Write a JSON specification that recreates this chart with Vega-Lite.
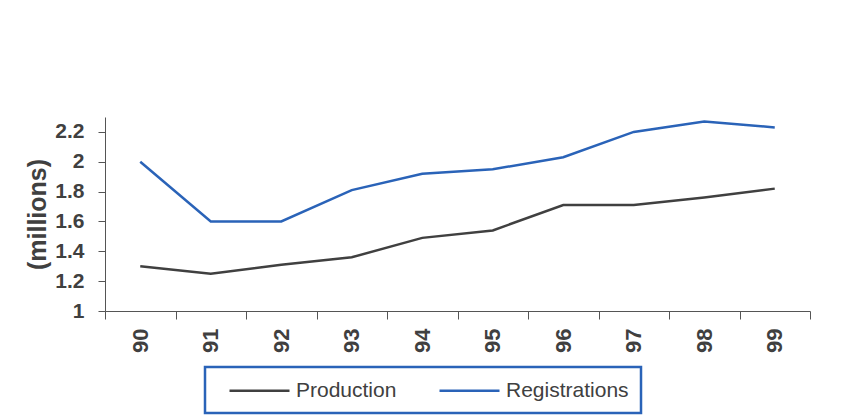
{
  "$schema": "https://vega.github.io/schema/vega-lite/v6.json",
  "width": 705,
  "height": 194,
  "autosize": {"type": "none"},
  "padding": {"left": 105, "top": 117, "right": 57, "bottom": 104},
  "background": "white",
  "data": {"values": [
    {"year": "90", "series": "Production", "value": 1.30},
    {"year": "91", "series": "Production", "value": 1.25},
    {"year": "92", "series": "Production", "value": 1.31},
    {"year": "93", "series": "Production", "value": 1.36},
    {"year": "94", "series": "Production", "value": 1.49},
    {"year": "95", "series": "Production", "value": 1.54},
    {"year": "96", "series": "Production", "value": 1.71},
    {"year": "97", "series": "Production", "value": 1.71},
    {"year": "98", "series": "Production", "value": 1.76},
    {"year": "99", "series": "Production", "value": 1.82},
    {"year": "90", "series": "Registrations", "value": 2.00},
    {"year": "91", "series": "Registrations", "value": 1.60},
    {"year": "92", "series": "Registrations", "value": 1.60},
    {"year": "93", "series": "Registrations", "value": 1.81},
    {"year": "94", "series": "Registrations", "value": 1.92},
    {"year": "95", "series": "Registrations", "value": 1.95},
    {"year": "96", "series": "Registrations", "value": 2.03},
    {"year": "97", "series": "Registrations", "value": 2.20},
    {"year": "98", "series": "Registrations", "value": 2.27},
    {"year": "99", "series": "Registrations", "value": 2.23}
  ]},
  "mark": {"type": "line", "strokeWidth": 2.5},
  "encoding": {
    "x": {
      "field": "year", "type": "ordinal",
      "scale": {"type": "band", "paddingInner": 0, "paddingOuter": 0},
      "axis": {
        "title": null, "labelAngle": 270, "tickBand": "extent",
        "labelFont": "Liberation Sans", "labelFontSize": 22, "labelFontWeight": "bold",
        "labelColor": "#404040", "domainColor": "#555", "tickColor": "#555",
        "tickSize": 8, "labelPadding": 9, "grid": false, "labelBaseline": "middle"
      }
    },
    "y": {
      "field": "value", "type": "quantitative",
      "scale": {"domain": [1, 2.3], "nice": false, "zero": false},
      "axis": {
        "title": "(millions)", "values": [1, 1.2, 1.4, 1.6, 1.8, 2, 2.2], "format": "~g",
        "titleFont": "Liberation Sans", "titleFontSize": 25, "titleFontWeight": "bold", "titleColor": "#404040",
        "labelFont": "Liberation Sans", "labelFontSize": 21, "labelFontWeight": "bold", "labelColor": "#404040",
        "domainColor": "#555", "tickColor": "#555", "tickSize": 7, "labelPadding": 14, "titlePadding": 4,
        "grid": false
      }
    },
    "color": {
      "field": "series", "type": "nominal",
      "scale": {"domain": ["Production", "Registrations"], "range": ["#404040", "#2a63b8"]},
      "legend": {
        "title": null, "orient": "none", "legendX": 100, "legendY": 250, "direction": "horizontal",
        "symbolType": "M-3,0H3", "symbolSize": 400, "symbolStrokeWidth": 2.5,
        "symbolOffset": 31, "labelOffset": 25,
        "labelFont": "Liberation Sans", "labelFontSize": 21, "labelColor": "#404040",
        "columnPadding": 30, "padding": 12, "strokeColor": "#2a63b8", "fillColor": "white",
        "labelBaseline": "middle",
        "encode": {"legend": {"update": {"strokeWidth": {"value": 2.5}}}}
      }
    }
  },
  "config": {"view": {"stroke": null}}
}
